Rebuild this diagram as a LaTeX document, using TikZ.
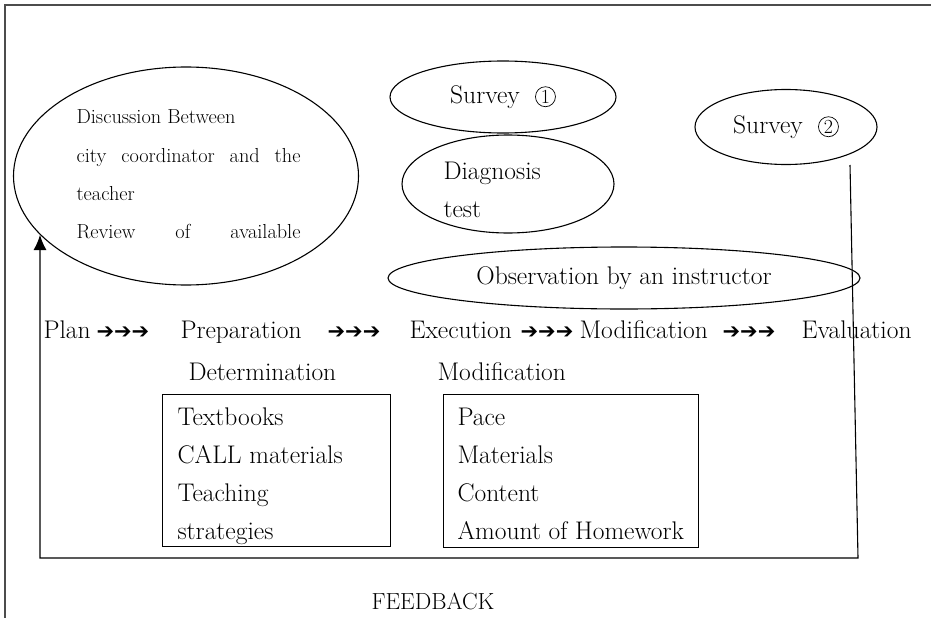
\documentclass[tikz,border=0pt]{standalone}
\usepackage{fontspec}
\newfontfamily\symfont{DejaVu Sans}
\usetikzlibrary{shapes.geometric,arrows.meta}
\tikzset{
  oval/.style={draw,ellipse,inner sep=0pt,font=\fontsize{25.5}{30}\selectfont},
  lbl/.style={anchor=base west,inner sep=0pt,font=\fontsize{25.5}{30}\selectfont},
  small/.style={anchor=base west,inner sep=0pt,font=\fontsize{20.3}{24}\selectfont},
  listbox/.style={draw,anchor=north west,inner sep=0pt},
}
\newcommand{\arrs}{{\symfont\fontsize{21}{22}\selectfont ➔➔➔}}
\newcommand{\circnum}[1]{\tikz[baseline=(n.base)]\node[circle,draw,line width=0.7pt,inner sep=0pt,minimum size=20pt,font=\fontsize{20}{20}\selectfont] (n) {#1};}
\begin{document}
\begin{tikzpicture}[x=1pt,y=-1pt,color=black,every path/.append style={line width=1.1pt}]
\useasboundingbox (0,0) rectangle (931,618);
\draw[line width=1.5pt,black!70] (931,5) -- (5,5) -- (5,618);
\node[oval,minimum width=345pt,minimum height=218pt] (disc) at (186,176) {};
\node[small] (disc1) at (76,123) {Discussion Between};
\node[small] (disc2) at (76,162) {\makebox[224pt][s]{city coordinator and the}};
\node[small] (disc3) at (76,200) {teacher};
\node[small] (disc4) at (76,238) {\makebox[224pt][s]{Review of available}};
\node[oval,minimum width=226pt,minimum height=72pt] (survA) at (503,97) {Survey\ \ \circnum{1}};
\node[oval,minimum width=212pt,minimum height=98pt] (diag) at (508,184) {};
\node[lbl] (diag1) at (443,179) {Diagnosis};
\node[lbl] (diag2) at (443,217) {test};
\node[oval,minimum width=182pt,minimum height=75pt] (survB) at (786,127) {Survey\ \ \circnum{2}};
\node[oval,minimum width=472pt,minimum height=62pt] (obs) at (624,278) {Observation by an instructor};
\node[lbl] (plan) at (43,338) {Plan};
\node[lbl] (arA) at (96,338) {\arrs};
\node[lbl] (prep) at (180,338) {Preparation};
\node[lbl] (arB) at (327,338) {\arrs};
\node[lbl] (exec) at (409,338) {Execution};
\node[lbl] (arC) at (520,338) {\arrs};
\node[lbl] (modif) at (579,338) {Modification};
\node[lbl] (arD) at (722,338) {\arrs};
\node[lbl] (eval) at (801,338) {Evaluation};
\node[lbl] (determ) at (188,380) {Determination};
\node[lbl] (modif2) at (437,380) {Modification};
\node[listbox,minimum width=228pt,minimum height=152pt] (tools) at (162,394) {};
\node[listbox,minimum width=255pt,minimum height=153pt] (changes) at (443,394) {};
\foreach \t [count=\i] in {Textbooks,CALL materials,Teaching,strategies}
  \node[lbl] (tool\i) at (177,387+38*\i) {\t};
\foreach \t [count=\i] in {Pace,Materials,Content,Amount of Homework}
  \node[lbl] (change\i) at (457,387+38*\i) {\t};
\node[lbl,anchor=base,font=\fontsize{23.3}{26}\selectfont] (feedback) at (433,609) {FEEDBACK};
\coordinate (fbtop) at (850,165);
\coordinate (fbturn) at (858,558);
\coordinate (fbleft) at (40,558);
\coordinate (fbtip) at (40,235);
\draw[-{Latex[length=15pt,width=13pt]}] (fbtop) -- (fbturn) -- (fbleft) -- (fbtip);
\end{tikzpicture}
\end{document}
